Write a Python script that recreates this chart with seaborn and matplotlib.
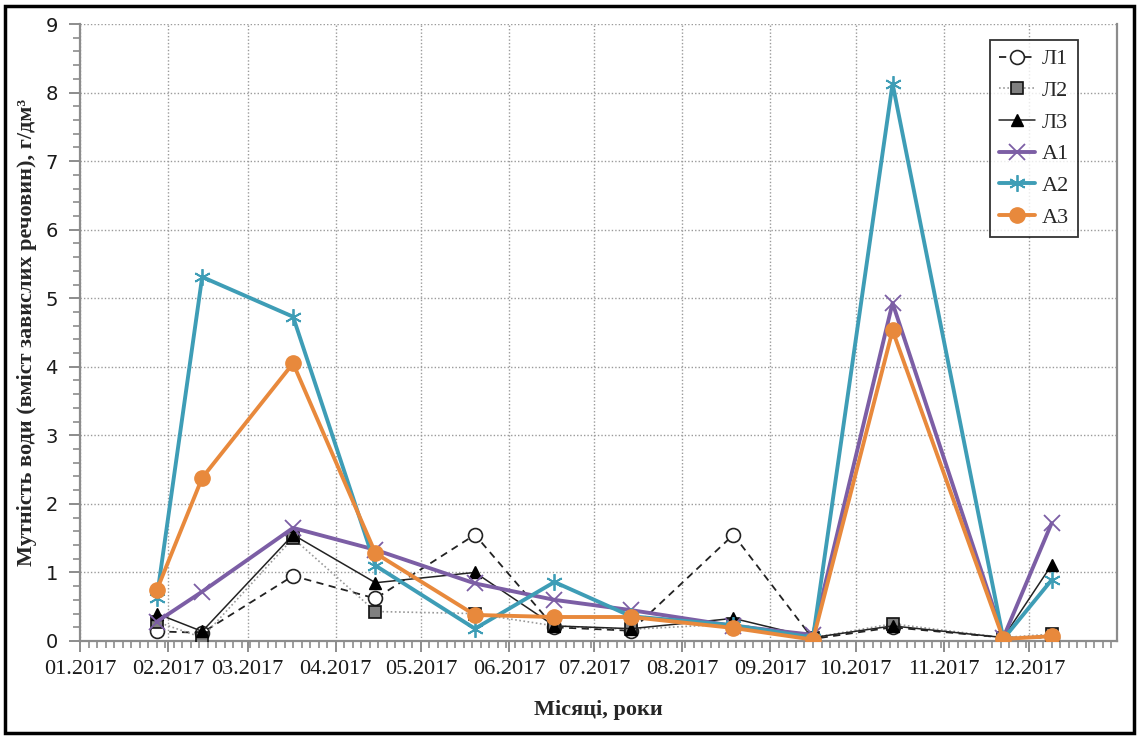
import matplotlib
matplotlib.use("Agg")
import matplotlib.pyplot as plt
import matplotlib.dates as mdates
from matplotlib.ticker import MultipleLocator, FixedLocator
import seaborn as sns
import pandas as pd

# Sampling dates and suspended-solids measurements (g/dm³) per station
dates = ["2017-01-28", "2017-02-13", "2017-03-17", "2017-04-15", "2017-05-20",
         "2017-06-17", "2017-07-14", "2017-08-19", "2017-09-16", "2017-10-14",
         "2017-11-22", "2017-12-09"]
l1 = [0.14, 0.12, 0.95, 0.62, 1.55, 0.20, 0.15, 1.55, 0.03, 0.20, 0.05, 0.05]
l2 = [0.28, 0.05, 1.50, 0.43, 0.40, 0.22, 0.17, 0.25, 0.05, 0.25, 0.05, 0.10]
l3 = [0.40, 0.14, 1.55, 0.85, 1.00, 0.22, 0.18, 0.33, 0.05, 0.22, 0.05, 1.11]
a1 = [0.28, 0.72, 1.65, 1.33, 0.84, 0.60, 0.45, 0.22, 0.09, 4.93, 0.05, 1.72]
a2 = [0.62, 5.31, 4.73, 1.10, 0.18, 0.86, 0.36, 0.23, 0.05, 8.13, 0.03, 0.89]
a3 = [0.74, 2.38, 4.05, 1.28, 0.38, 0.35, 0.35, 0.19, 0.02, 4.53, 0.03, 0.07]

names = ["Л1", "Л2", "Л3", "А1", "А2", "А3"]
series = [l1, l2, l3, a1, a2, a3]

frames = []
for name, vals in zip(names, series):
    frames.append(pd.DataFrame({"date": pd.to_datetime(dates), "value": vals, "station": name}))
df = pd.concat(frames, ignore_index=True)

sns.set_style("white")
SERIF = ["Liberation Serif", "DejaVu Serif"]
plt.rcParams["font.family"] = SERIF

styles = {
    "Л1": dict(color="#222222", lw=1.3, linestyle=(0, (4, 3)), marker="o", ms=10,
               mfc="white", mec="#222222", mew=1.2, zorder=3),
    "Л2": dict(color="#9a9a9a", lw=1.2, linestyle=(0, (1, 1.5)), marker="s", ms=8,
               mfc="#808080", mec="#111111", mew=1.2, zorder=3),
    "Л3": dict(color="#222222", lw=1.1, linestyle="-", marker="^", ms=8,
               mfc="black", mec="black", mew=1.0, zorder=3),
    "А1": dict(color="#7c5ea5", lw=2.8, linestyle="-", marker="x", ms=11,
               mfc="#7c5ea5", mec="#7c5ea5", mew=1.3, zorder=4),
    "А2": dict(color="#3e9db6", lw=2.8, linestyle="-", marker=(6, 2, 0), ms=12,
               mfc="#3e9db6", mec="#3e9db6", mew=1.3, zorder=4),
    "А3": dict(color="#e8893c", lw=2.8, linestyle="-", marker="o", ms=11,
               mfc="#e8893c", mec="#e8893c", mew=1.0, zorder=5),
}

fig = plt.figure(figsize=(11.39, 7.36), dpi=100)
ax = fig.add_axes([80 / 1139, 1 - 641 / 736, (1117 - 80) / 1139, (641 - 24) / 736])

for name in names:
    st = styles[name]
    sub = df[df["station"] == name]
    sns.lineplot(data=sub, x="date", y="value", ax=ax, estimator=None, sort=False,
                 color=st["color"], linewidth=st["lw"], linestyle=st["linestyle"],
                 marker=st["marker"], markersize=st["ms"], markerfacecolor=st["mfc"],
                 markeredgecolor=st["mec"], markeredgewidth=st["mew"],
                 label=name, zorder=st["zorder"])

# Axes limits and ticks
ax.set_xlim(pd.Timestamp("2017-01-01"), pd.Timestamp("2018-01-01"))
ax.set_ylim(0, 9)
month_ticks = pd.date_range("2017-01-01", "2017-12-01", freq="MS")
ax.xaxis.set_major_locator(FixedLocator(mdates.date2num(month_ticks)))
ax.xaxis.set_major_formatter(mdates.DateFormatter("%m.%Y"))
minor_ticks = pd.date_range("2017-01-01", "2018-01-01", freq="3D")
ax.xaxis.set_minor_locator(FixedLocator(mdates.date2num(minor_ticks)))
ax.yaxis.set_major_locator(MultipleLocator(1))
ax.yaxis.set_minor_locator(MultipleLocator(0.2))

ax.grid(True, which="major", axis="both", color="#9a9a9a", linestyle=(0, (1, 1.5)), linewidth=1.0)
ax.set_axisbelow(True)

for side in ["left", "bottom", "right"]:
    ax.spines[side].set_color("#8c8c8c")
    ax.spines[side].set_linewidth(1.6)
ax.spines["top"].set_visible(False)

ax.tick_params(axis="both", which="major", direction="out", length=8, width=1.4, color="#8c8c8c")
ax.tick_params(axis="both", which="minor", direction="out", length=5, width=1.2, color="#8c8c8c")
ax.tick_params(axis="x", which="both", top=False, bottom=True)
ax.tick_params(axis="y", which="both", left=True, right=False)
ax.tick_params(axis="x", which="major", labelsize=16, pad=6, labelcolor="#1a1a1a")
ax.tick_params(axis="y", which="major", labelsize=14, pad=8, labelcolor="#1a1a1a")

fig.canvas.draw()
for lab in ax.get_xticklabels():
    lab.set_family(SERIF)
    lab.set_fontsize(16)
for lab in ax.get_yticklabels():
    lab.set_family(["DejaVu Sans"])
    lab.set_fontsize(14)

ax.set_xlabel("Місяці, роки", fontsize=16, fontweight="bold", labelpad=15, family=SERIF)
ax.set_ylabel("Мутність води (вміст завислих речовин), г/дм³", fontsize=16,
              fontweight="bold", labelpad=6, family=SERIF)

leg = ax.legend(loc="upper right", bbox_to_anchor=(0.962, 0.974), frameon=True,
                fancybox=False, edgecolor="black", fontsize=16, handlelength=1.6,
                handletextpad=0.3, labelspacing=0.5, borderpad=0.4, borderaxespad=0,
                prop={"family": SERIF, "size": 16})
leg.get_frame().set_linewidth(1.3)

# Outer frame around the whole figure
fig.patches.append(plt.Rectangle((0.004, 0.004), 0.992, 0.988, transform=fig.transFigure,
                                 fill=False, edgecolor="black", linewidth=2.5))

fig.savefig("out.png", dpi=100)
